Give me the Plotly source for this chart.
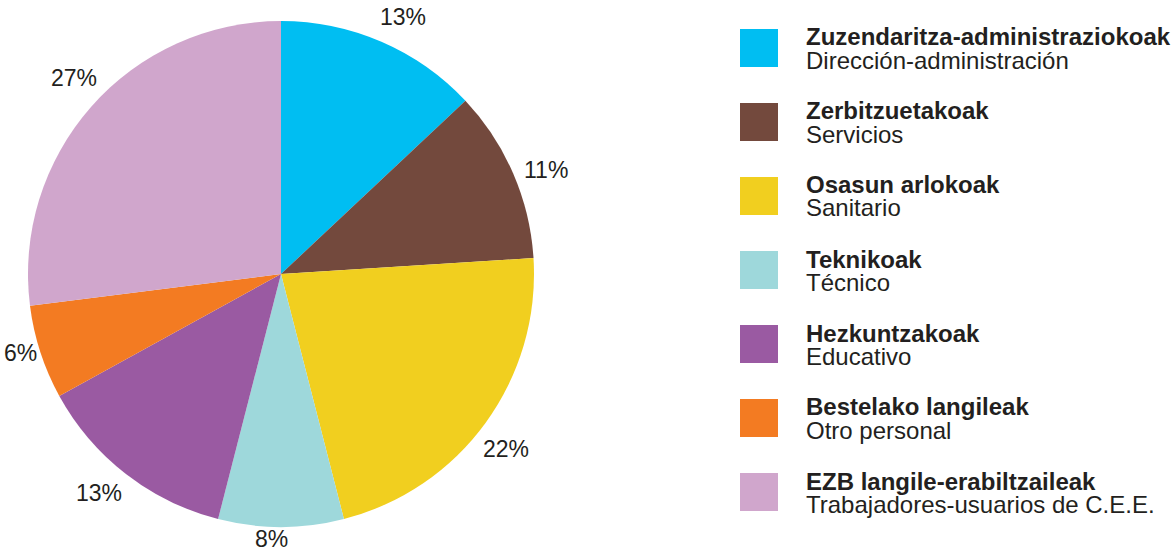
import math
import plotly.graph_objects as go

labels_eu = ["Zuzendaritza-administraziokoak", "Zerbitzuetakoak", "Osasun arlokoak",
             "Teknikoak", "Hezkuntzakoak", "Bestelako langileak", "EZB langile-erabiltzaileak"]
labels_es = ["Dirección-administración", "Servicios", "Sanitario", "Técnico",
             "Educativo", "Otro personal", "Trabajadores-usuarios de C.E.E."]
values = [13, 11, 22, 8, 13, 6, 27]
colors = ["#00BEF2", "#73493D", "#F1CF1F", "#9ED8DB", "#9A5AA2", "#F37B22", "#D0A6CC"]

W, H = 1173, 555
FONT = "Liberation Sans, Arial, sans-serif"
TXT = "#231F20"
CX, CY, R = 281, 274, 253      # pie centre / radius in pixels
LABEL_R = 285                  # radius of the percentage labels
LABEL_SHIFT = 2.0              # degrees, labels sit slightly clockwise of mid-slice

fig = go.Figure(go.Pie(
    labels=labels_eu, values=values, sort=False, direction="clockwise", rotation=0,
    marker=dict(colors=colors, line=dict(width=0)),
    textinfo="none", hoverinfo="label+percent",
    domain=dict(x=[(CX - R) / W, (CX + R) / W], y=[(H - CY - R) / H, (H - CY + R) / H]),
    showlegend=False, automargin=False,
))

annotations = []
total = sum(values)
cum = 0
for v in values:
    mid = math.radians((cum + v / 2) / total * 360 + LABEL_SHIFT)
    cum += v
    px = CX + LABEL_R * math.sin(mid)
    py = CY - LABEL_R * math.cos(mid)
    px = min(max(px, 20), W - 20)
    py = min(max(py, 16), H - 16)
    annotations.append(dict(text=f"{round(v / total * 100)}%", xref="paper", yref="paper",
                            x=px / W, y=1 - py / H, xanchor="center", yanchor="middle",
                            showarrow=False, font=dict(family=FONT, size=23, color=TXT)))

shapes = []
top0, step, sw = 29, 74, 38
for i, (eu, es, c) in enumerate(zip(labels_eu, labels_es, colors)):
    t = top0 + i * step
    shapes.append(dict(type="rect", xref="paper", yref="paper",
                       x0=740 / W, x1=(740 + sw) / W, y0=1 - (t + sw) / H, y1=1 - t / H,
                       fillcolor=c, line=dict(width=0)))
    annotations.append(dict(text="<b>" + eu + "</b>", xref="paper", yref="paper",
                            x=804 / W, y=1 - (t + 8) / H, xanchor="left", yanchor="middle",
                            showarrow=False, font=dict(family=FONT, size=24, color=TXT)))
    annotations.append(dict(text=es, xref="paper", yref="paper",
                            x=804 / W, y=1 - (t + 31) / H, xanchor="left", yanchor="middle",
                            showarrow=False, font=dict(family=FONT, size=24, color=TXT)))

fig.update_layout(width=W, height=H, margin=dict(l=0, r=0, t=0, b=0),
                  paper_bgcolor="white", plot_bgcolor="white",
                  shapes=shapes, annotations=annotations)
fig.write_html("out.html")
